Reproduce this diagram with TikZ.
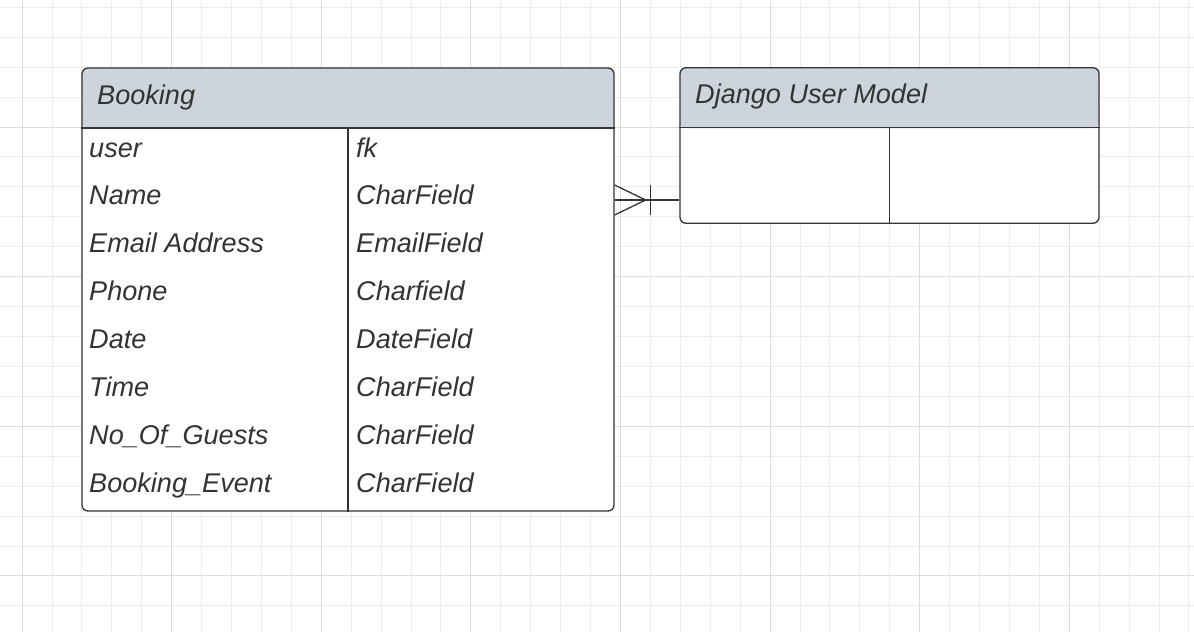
\documentclass[tikz,border=0pt]{standalone}
\usepackage{fontspec}
\setmainfont{Liberation Sans}
\usetikzlibrary{positioning,calc}
\definecolor{gridminor}{HTML}{EDEDED}
\definecolor{gridmajor}{HTML}{DCDCDC}
\definecolor{headgrey}{HTML}{CED4DB}
\definecolor{inkgrey}{HTML}{333333}
\tikzset{
    erd_table/.style={
        draw=inkgrey, line width=1.3pt, rounded corners=6pt, fill=white, inner sep=0pt,
        path picture={\fill[headgrey] (path picture bounding box.north west)
            rectangle ([yshift=-60.5pt]path picture bounding box.north east);}
    },
    erd_title/.style={anchor=base west, inner sep=0pt, text=inkgrey,
        font=\fontsize{27.1}{32}\selectfont\itshape},
    erd_field/.style={erd_title},
    erd_rule/.style={draw=inkgrey, line width=1.3pt},
    erd_link/.style={draw=inkgrey, line width=1.3pt},
}

\begin{document}
\begin{tikzpicture}[x=1pt, y=-1pt]
    \useasboundingbox (0,0) rectangle (1194,632);
    \fill[white] (0,0) rectangle (1194,632);

    % Background grid
    \foreach \i in {0,...,39} \draw[gridminor, line width=1pt] ({22.1+29.92*\i},0) -- ++(0,632);
    \foreach \j in {0,...,20} \draw[gridminor, line width=1pt] (0,{7.3+29.93*\j}) -- ++(1194,0);
    \foreach \i in {0,5,...,35} \draw[gridmajor, line width=1pt] ({22.1+29.92*\i},0) -- ++(0,632);
    \foreach \j in {4,9,14,19} \draw[gridmajor, line width=1pt] (0,{7.3+29.93*\j}) -- ++(1194,0);

    % Tables
    \node[erd_table, minimum width=532pt, minimum height=443pt] (booking) at (348,289.5) {};
    \node[erd_table, minimum width=419pt, minimum height=155.5pt] (django) at (889.5,145.5) {};
    \draw[erd_rule] ([yshift=-60.5pt]booking.north west) -- ([yshift=-60.5pt]booking.north east);
    \draw[erd_rule] ([yshift=-60.5pt]booking.north) -- (booking.south);
    \draw[erd_rule] ([yshift=-60.5pt]django.north west) -- ([yshift=-60.5pt]django.north east);
    \draw[erd_rule] ([yshift=-60.5pt]django.north) -- (django.south);

    \node[erd_title] (booking_title) at (97,104) {Booking};
    \node[erd_title] (django_title) at (695,103.5) {Django User Model};

    % Booking fields
    \foreach \fname/\ftype [count=\k from 0] in {user/fk, Name/CharField,
        Email Address/EmailField, Phone/Charfield, Date/DateField, Time/CharField,
        No\_Of\_Guests/CharField, Booking\_Event/CharField} {
        \node[erd_field] (fname\k) at (89,{157+47.9*\k}) {\fname};
        \node[erd_field] (ftype\k) at (356,{157+47.9*\k}) {\ftype};
    }

    % Relation: many bookings to one user
    \coordinate (name_row) at (348,200);
    \draw[erd_link] (booking.east |- name_row) coordinate (link_start) -- (django.west |- name_row);
    \draw[erd_link] (link_start) ++(0,-15) -- ++(31,15) -- ++(-31,15);
    \draw[erd_link] (link_start) ++(36,-15) -- ++(0,30);
\end{tikzpicture}
\end{document}
